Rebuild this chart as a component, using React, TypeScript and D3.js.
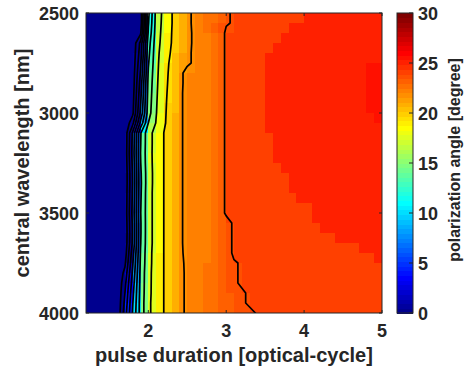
import React from 'react';
import * as d3 from 'd3';

// grid of the pcolor plot (x = pulse duration, y = central wavelength)
const pulseDurations = [
  1.2, 1.3, 1.4, 1.5, 1.6, 1.7, 1.8, 1.9, 2.0, 2.1, 2.2, 2.3, 2.4, 2.5, 2.6, 2.7, 2.8, 2.9, 3.0, 3.1,
  3.2, 3.3, 3.4, 3.5, 3.6, 3.7, 3.8, 3.9, 4.0, 4.1, 4.2, 4.3, 4.4, 4.5, 4.6, 4.7, 4.8, 4.9, 5.0,
];
const wavelengths = [
  2500, 2550, 2600, 2650, 2700, 2750, 2800, 2850, 2900, 2950, 3000, 3050, 3100, 3150, 3200, 3250,
  3300, 3350, 3400, 3450, 3500, 3550, 3600, 3650, 3700, 3750, 3800, 3850, 3900, 3950, 4000,
];

// polarization angle [degree], one row per wavelength
const angleRows: number[][] = [
  [0,0,0,0,0,0,0.1,0.6,11.5,16.6,18.6,19.95,20.9, 21.8,22.2,22.5,22.9,23.4,23.9,24.1,24.2,24.25,24.3,24.3,24.35,24.35,24.35,24.35, 24.9,24.95,25,25,25.05,25.05,25.1,25.1,25.1,25.15,25.15],
  [0,0,0,0,0,0,0.1,0.7,11.8,16.7,18.7,19.95,20.9, 21.8,22.2,22.6,23.0,23.45,23.9,24.1,24.2,24.25,24.3,24.3,24.35,24.35, 24.9,24.95,25,25,25.05,25.05,25.1,25.1,25.15,25.15,25.2,25.2,25.2],
  [0,0,0,0,0,0,0.2,1.6,12.3,16.9,18.8,20.0,20.95, 21.8,22.15,22.4,22.8,23.25,24.2,24.2,24.25,24.3,24.3,24.35,24.35, 24.9,24.95,25,25.05,25.05,25.1,25.1,25.15,25.15,25.2,25.2,25.25,25.25,25.25],
  [0,0,0,0,0,0,0.4,4.5,13.0,17.1,18.9,20.05,21.0, 21.8,22.15,22.4,22.8,23.25,24.2,24.2,24.25,24.3,24.3,24.35, 24.9,24.95,25,25.05,25.1,25.1,25.15,25.15,25.2,25.2,25.25,25.25,25.3,25.3,25.3],
  [0,0,0,0,0,0,0.5,5.0,13.4,17.3,19.1,20.2,21.1, 21.85,22.15,22.4,22.8,23.25,24.2,24.2,24.25,24.3,24.35, 24.9,24.95,25,25.05,25.1,25.1,25.15,25.15,25.2,25.2,25.25,25.25,25.3,25.3,25.3,25.3],
  [0,0,0,0,0,0,0.6,5.6,13.8,17.4,19.3,20.4,21.2, 21.85,22.15,22.4,22.8,23.25,24.2,24.2,24.25,24.3,24.35, 24.9,24.95,25,25.05,25.1,25.1,25.15,25.15,25.2,25.2,25.25,25.25,25.3,25.4,25.45,25.45],
  [0,0,0,0,0,0,0.8,6.2,14.2,17.5,19.4,20.5,21.75, 22.3,22.35,22.45,22.8,23.25,24.2,24.2,24.25,24.3,24.35, 24.9,24.95,25,25.05,25.1,25.1,25.15,25.15,25.2,25.2,25.25,25.25,25.3,25.4,25.45,25.45],
  [0,0,0,0,0,0,0.9,6.8,14.5,17.6,19.5,20.55,21.75, 22.3,22.35,22.45,22.8,23.25,24.2,24.2,24.25,24.3,24.35, 24.9,24.95,25,25.05,25.1,25.1,25.15,25.15,25.2,25.2,25.25,25.25,25.3,25.4,25.45,25.45],
  [0,0,0,0,0,0,1.1,7.3,14.7,17.7,19.6,20.6,21.8, 22.3,22.35,22.45,22.8,23.25,24.2,24.2,24.25,24.3,24.35, 24.9,24.95,25,25.05,25.1,25.1,25.15,25.15,25.2,25.2,25.25,25.25,25.3,25.45,25.5,25.5],
  [0,0,0,0,0,0,1.3,7.8,14.9,17.8,19.7,20.6,21.8, 22.3,22.35,22.45,22.8,23.25,24.2,24.2,24.25,24.3,24.35, 24.9,24.95,25,25.05,25.1,25.1,25.15,25.15,25.2,25.2,25.25,25.25,25.3,25.4,25.45,25.45],
  [0,0,0,0,0,0,1.6,8.4,15.1,17.9,19.75,20.65,21.8, 22.3,22.35,22.45,22.8,23.25,24.2,24.2,24.25,24.3,24.35, 24.9,24.95,25,25.05,25.1,25.1,25.15,25.15,25.2,25.2,25.25,25.25,25.3,25.3,25.4,25.4],
  [0,0,0,0,0,0.2,3.4,10.5,16.0,18.1,19.8,20.7,21.8, 22.3,22.35,22.45,22.8,23.25,24.2,24.2,24.25,24.3,24.35, 24.9,24.95,25,25,25.05,25.05,25.1,25.1,25.15,25.15,25.2,25.2,25.25,25.25,25.25,25.25],
  [0,0,0,0,0,0.5,6.4,13.8,17.3,18.7,20.02,20.9,21.8, 22.3,22.35,22.45,22.8,23.25,24.2,24.2,24.25,24.3,24.35,24.35, 24.9,24.95,25,25,25.05,25.05,25.1,25.1,25.15,25.15,25.2,25.2,25.2,25.2,25.2],
  [0,0,0,0,0,0.5,6.6,13.9,17.3,18.7,20.02,20.9,21.8, 22.3,22.35,22.45,22.8,23.25,24.2,24.2,24.25,24.3,24.35,24.35, 24.9,24.95,25,25,25.05,25.05,25.1,25.1,25.15,25.15,25.2,25.2,25.2,25.2,25.2],
  [0,0,0,0,0,0.6,6.8,14.0,17.35,18.7,20.02,20.9,21.8, 22.3,22.35,22.45,22.8,23.25,24.2,24.2,24.25,24.3,24.35,24.35, 24.9,24.95,25,25,25.05,25.05,25.1,25.1,25.15,25.15,25.2,25.2,25.2,25.2,25.2],
  [0,0,0,0,0,0.5,6.5,13.9,17.3,18.7,20.02,20.9,21.8, 22.3,22.35,22.45,22.8,23.25,24.2,24.2,24.25,24.3,24.3,24.35,24.35, 24.9,24.95,25,25,25.05,25.05,25.1,25.1,25.1,25.15,25.15,25.15,25.15,25.15],
  [0,0,0,0,0,0.4,6.2,13.7,17.2,18.7,20.02,20.9,21.8, 22.3,22.35,22.45,22.8,23.25,24.2,24.2,24.25,24.3,24.3,24.35,24.35,24.35, 24.9,24.95,25,25,25.05,25.05,25.1,25.1,25.1,25.1,25.1,25.1,25.1],
  [0,0,0,0,0,0.4,6.1,13.6,17.2,18.7,20.02,20.9,21.8, 22.3,22.35,22.45,22.8,23.25,24.2,24.2,24.25,24.3,24.3,24.35,24.35,24.35, 24.9,24.95,25,25,25.05,25.05,25.1,25.1,25.1,25.1,25.1,25.1,25.1],
  [0,0,0,0,0,0.5,6.3,13.7,17.3,18.7,20.02,20.9,21.8, 22.3,22.35,22.45,22.8,23.25,24.2,24.2,24.25,24.3,24.3,24.35,24.35,24.35,24.35, 24.9,24.95,25,25,25.05,25.05,25.05,25.1,25.1,25.1,25.1,25.1],
  [0,0,0,0,0,0.5,6.5,13.8,17.3,18.7,20.02,20.9,21.8, 22.3,22.35,22.45,22.8,23.25,24.2,24.2,24.25,24.3,24.3,24.35,24.35,24.35,24.35,24.35,24.35, 24.9,24.95,24.95,25,25,25.05,25.05,25.05,25.05,25.05],
  [0,0,0,0,0,0.6,6.7,13.9,17.3,18.7,20.02,20.9,21.8, 22.3,22.35,22.45,22.8,23.25,24.2,24.2,24.25,24.3,24.3,24.35,24.35,24.35,24.35,24.35,24.35, 24.9,24.95,24.95,25,25,25.05,25.05,25.05,25.05,25.05],
  [0,0,0,0,0,0.5,6.4,13.8,17.3,18.7,20.02,20.9,21.8, 22.3,22.35,22.45,22.7,23.0,23.5,24.2,24.2,24.25,24.3,24.3,24.35,24.35,24.35,24.35,24.35,24.35, 24.9,24.95,24.95,25,25,25,25,25,25],
  [0,0,0,0,0,0.4,6.3,13.8,17.3,18.7,20.02,20.9,21.8, 22.3,22.35,22.45,22.7,23.0,23.5,24.2,24.2,24.25,24.3,24.3,24.3,24.35,24.35,24.35,24.35,24.35,24.35,24.35, 24.9,24.9,24.95,24.95,24.95,24.95,24.95],
  [0,0,0,0,0,0.5,6.4,13.9,17.3,18.7,20.02,20.9,21.8, 22.3,22.35,22.45,22.7,23.0,23.5,24.2,24.2,24.25,24.3,24.3,24.3,24.3,24.35,24.35,24.35,24.35,24.35,24.35,24.35,24.35,24.35, 24.9,24.9,24.9,24.9],
  [0,0,0,0,0,0.9,7.2,14.1,17.4,18.75,20.02,20.9,21.75, 22.3,22.35,22.45,22.7,23.0,23.5,24.2,24.2,24.25,24.25,24.3,24.3,24.3,24.3,24.3,24.3,24.35,24.35,24.35,24.35,24.35,24.35,24.35,24.35, 24.9,24.9],
  [0,0,0,0,0,1.6,7.8,14.3,17.4,18.8,20.02,20.85,21.75, 22.2,22.45,22.7,22.95,23.2,23.5,23.9,24.1,24.15,24.2,24.2,24.25,24.25, 24.3,24.3,24.3,24.3,24.3,24.3,24.3,24.3,24.3,24.3,24.3,24.3,24.3],
  [0,0,0,0,0.1,2.6,8.4,14.5,17.5,18.8,20.02,20.85,21.7, 22.2,22.45,22.7,22.95,23.2,23.5,23.9,24.1,24.15,24.2,24.2,24.25,24.25, 24.3,24.3,24.3,24.3,24.3,24.3,24.3,24.3,24.3,24.3,24.3,24.3,24.3],
  [0,0,0,0,0.1,3.4,9.0,14.6,17.5,18.85,20.02,20.8,21.7, 22.2,22.45,22.7,22.95,23.2,23.5,23.9,24.1,24.15,24.2,24.2,24.25,24.25, 24.3,24.3,24.3,24.3,24.3,24.3,24.3,24.3,24.3,24.3,24.3,24.3,24.3],
  [0,0,0,0,0.1,4.0,9.5,14.7,17.5,18.9,20.02,20.8,21.7, 22.2,22.4,22.65,22.9,23.15,23.4,23.65,23.9,24.1,24.15,24.2,24.2,24.25, 24.25,24.3,24.3,24.3,24.3,24.3,24.3,24.3,24.3,24.3,24.3,24.3,24.3],
  [0,0,0,0,0.15,4.5,9.9,14.8,17.6,18.9,20.02,20.8,21.7, 22.2,22.4,22.65,22.9,23.15,23.4,23.65,23.9,24.1,24.15,24.2,24.2,24.25, 24.25,24.3,24.3,24.3,24.3,24.3,24.3,24.3,24.3,24.3,24.3,24.3,24.3],
  [0,0,0,0,0.2,5.0,10.2,14.8,17.6,18.9,20.02,20.8,21.7, 22.2,22.4,22.6,22.8,23.0,23.2,23.4,23.6,23.85,24.05, 24.1,24.15,24.2,24.2,24.25,24.25,24.25, 24.3,24.3,24.3,24.3,24.3,24.3,24.3,24.3,24.3],
];

const contourLevels = [2, 4, 6, 8, 10, 12, 14, 16, 18, 20, 22, 24];
const xTicks = [2, 3, 4, 5];
const yTicks = [2500, 3000, 3500, 4000];
const colorTicks = [0, 5, 10, 15, 20, 25, 30];

// MATLAB jet(64)
function jet64(v: number): string {
  const m = 64;
  const k = Math.max(0, Math.min(m - 1, Math.floor((v / 30) * m))) + 1;
  const u = (i: number) => (i < 1 || i > 47 ? 0 : i <= 16 ? i / 16 : i <= 31 ? 1 : (48 - i) / 16);
  const r = u(k - 24), g = u(k - 8), b = u(k + 8);
  return d3.rgb(r * 255, g * 255, b * 255).formatHex();
}

const font = '"Liberation Sans", Arial, Helvetica, sans-serif';
const axisColor = '#262626';

export default function App() {
  const x = d3.scaleLinear().domain([1.2, 5]).range([86, 382]);
  const y = d3.scaleLinear().domain([2500, 4000]).range([13, 313]);
  const c = d3.scaleLinear().domain([0, 30]).range([313, 13]);

  const nx = pulseDurations.length;
  const ny = wavelengths.length;

  // grid index -> data value
  const xi = d3.scaleLinear().domain([0, nx - 1]).range([pulseDurations[0], pulseDurations[nx - 1]]);
  const yi = d3.scaleLinear().domain([0, ny - 1]).range([wavelengths[0], wavelengths[ny - 1]]);

  const flat = angleRows.flatMap(row => row.slice(0, nx));
  const shapes = d3.contours().size([nx, ny]).thresholds(contourLevels)(flat);
  const toPx = (p: number[]) => `${x(xi(p[0] - 0.5)).toFixed(2)},${y(yi(p[1] - 0.5)).toFixed(2)}`;
  const contourPaths = shapes.map(s =>
    s.coordinates.map(poly => poly.map(ring => 'M' + ring.map(toPx).join('L') + 'Z').join('')).join('')
  );

  const cells: JSX.Element[] = [];
  for (let j = 0; j < ny - 1; j++) {
    for (let i = 0; i < nx - 1; i++) {
      const x0 = x(pulseDurations[i]);
      const x1 = x(pulseDurations[i + 1]);
      const y0 = y(wavelengths[j]);
      const y1 = y(wavelengths[j + 1]);
      cells.push(
        <rect key={`${j}-${i}`} x={x0} y={y0} width={x1 - x0 + 0.6} height={y1 - y0 + 0.6}
          fill={jet64(angleRows[j][i])} />
      );
    }
  }

  const barSteps = d3.range(64);
  const barLeft = 397, barRight = 413;

  return (
    <svg width={466} height={373} style={{ position: 'absolute', left: 0, top: 0 }}
      fontFamily={font} fontWeight="bold" fill={axisColor}>
      <defs>
        <clipPath id="plotClip">
          <rect x={86} y={13} width={296} height={300} />
        </clipPath>
      </defs>
      <rect width={466} height={373} fill="#fff" />

      <g clipPath="url(#plotClip)" shapeRendering="crispEdges">{cells}</g>
      <g clipPath="url(#plotClip)">
        {contourPaths.map((d, k) => (
          <path key={k} d={d} fill="none" stroke="#000" strokeWidth={1.7} strokeLinejoin="round" />
        ))}
      </g>

      {/* axes box and ticks */}
      <rect x={86} y={13} width={296} height={300} fill="none" stroke={axisColor} strokeWidth={1} />
      {xTicks.map(t => (
        <g key={t} stroke={axisColor}>
          <line x1={x(t)} x2={x(t)} y1={313} y2={310} />
          <line x1={x(t)} x2={x(t)} y1={13} y2={16} />
        </g>
      ))}
      {yTicks.map(t => (
        <g key={t} stroke={axisColor}>
          <line x1={86} x2={89} y1={y(t)} y2={y(t)} />
          <line x1={382} x2={379} y1={y(t)} y2={y(t)} />
        </g>
      ))}
      {xTicks.map(t => (
        <text key={t} x={x(t)} y={337} textAnchor="middle" fontSize={18}>{t}</text>
      ))}
      {yTicks.map(t => (
        <text key={t} x={79} y={y(t) + 6.5} textAnchor="end" fontSize={18}>{t}</text>
      ))}
      <text x={234} y={362} textAnchor="middle" fontSize={20}>pulse duration [optical-cycle]</text>
      <text transform="translate(29,163) rotate(-90)" textAnchor="middle" fontSize={20}>central wavelength [nm]</text>

      {/* colorbar */}
      <g shapeRendering="crispEdges">
        {barSteps.map(k => {
          const v0 = (k * 30) / 64;
          const v1 = ((k + 1) * 30) / 64;
          return (
            <rect key={k} x={barLeft} y={c(v1)} width={barRight - barLeft} height={c(v0) - c(v1) + 0.6}
              fill={jet64(v0 + 0.01)} />
          );
        })}
      </g>
      <rect x={barLeft} y={13} width={barRight - barLeft} height={300} fill="none" stroke={axisColor} strokeWidth={1} />
      {colorTicks.map(t => (
        <g key={t}>
          <line x1={barRight} x2={barRight - 4} y1={c(t)} y2={c(t)} stroke={axisColor} />
          <text x={418} y={c(t) + 6.5} fontSize={18}>{t}</text>
        </g>
      ))}
      <text transform="translate(459.5,160) rotate(-90)" textAnchor="middle" fontSize={16}>polarization angle [degree]</text>
    </svg>
  );
}
